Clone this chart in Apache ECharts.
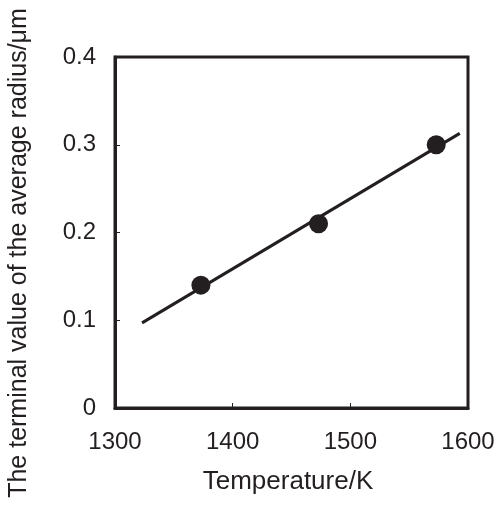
<!DOCTYPE html>
<html>
<head>
<meta charset="utf-8">
<script src="https://cdn.jsdelivr.net/npm/echarts@6/dist/echarts.min.js"></script>
<style>
  html, body { margin: 0; padding: 0; background: #fff; }
  #chart { width: 500px; height: 510px; }
</style>
</head>
<body>
<div id="chart"></div>
<script>
// Measured points: temperature (K) vs terminal average radius (µm)
const temperatures = [1373, 1473, 1573];
const radii = [0.14, 0.21, 0.30];

// Linear trend line end points
const trendX = [1323, 1593];
const trendY = [0.097, 0.313];

const xTicks = [1300, 1400, 1500, 1600];
const yTicks = [0, 0.1, 0.2, 0.3, 0.4];

const ink = '#231f20';
const font = '"Liberation Sans", Arial, sans-serif';

const chart = echarts.init(document.getElementById('chart'), null, { renderer: 'canvas' });

chart.setOption({
  animation: false,
  backgroundColor: '#fff',
  grid: {
    left: 115, right: 32, top: 57, bottom: 102,
    show: true, borderColor: ink, borderWidth: 3, backgroundColor: 'transparent'
  },
  xAxis: {
    type: 'value',
    min: xTicks[0], max: xTicks[xTicks.length - 1], interval: 100,
    axisLine: { show: true, lineStyle: { color: ink, width: 3 } },
    axisTick: { show: true, inside: true, length: 5, lineStyle: { color: ink, width: 1 } },
    splitLine: { show: false },
    axisLabel: {
      color: ink, fontFamily: font, fontSize: 24, margin: 22,
      formatter: v => String(v)
    }
  },
  yAxis: {
    type: 'value',
    min: yTicks[0], max: yTicks[yTicks.length - 1], interval: 0.1,
    axisLine: { show: true, lineStyle: { color: ink, width: 3 } },
    axisTick: { show: true, inside: true, length: 5, lineStyle: { color: ink, width: 1 } },
    splitLine: { show: false },
    axisLabel: {
      color: ink, fontFamily: font, fontSize: 24, margin: 19,
      formatter: v => (v === 0 ? '0' : v.toFixed(1))
    }
  },
  graphic: [
    {
      type: 'text',
      x: 288, y: 482,
      style: {
        text: 'Temperature/K', fill: ink, font: '26px ' + font,
        align: 'center', verticalAlign: 'middle'
      }
    },
    {
      type: 'text',
      x: 19, y: 253,
      rotation: Math.PI / 2,
      style: {
        text: 'The terminal value of the average radius/\u03bcm',
        fill: ink, font: '25px ' + font,
        align: 'center', verticalAlign: 'middle'
      }
    }
  ],
  series: [
    {
      type: 'line',
      data: trendX.map((x, i) => [x, trendY[i]]),
      showSymbol: false,
      lineStyle: { color: ink, width: 3 },
      z: 2
    },
    {
      type: 'scatter',
      data: temperatures.map((t, i) => [t, radii[i]]),
      symbol: 'circle',
      symbolSize: 19,
      itemStyle: { color: ink, opacity: 1 },
      z: 3
    }
  ]
});
</script>
</body>
</html>
